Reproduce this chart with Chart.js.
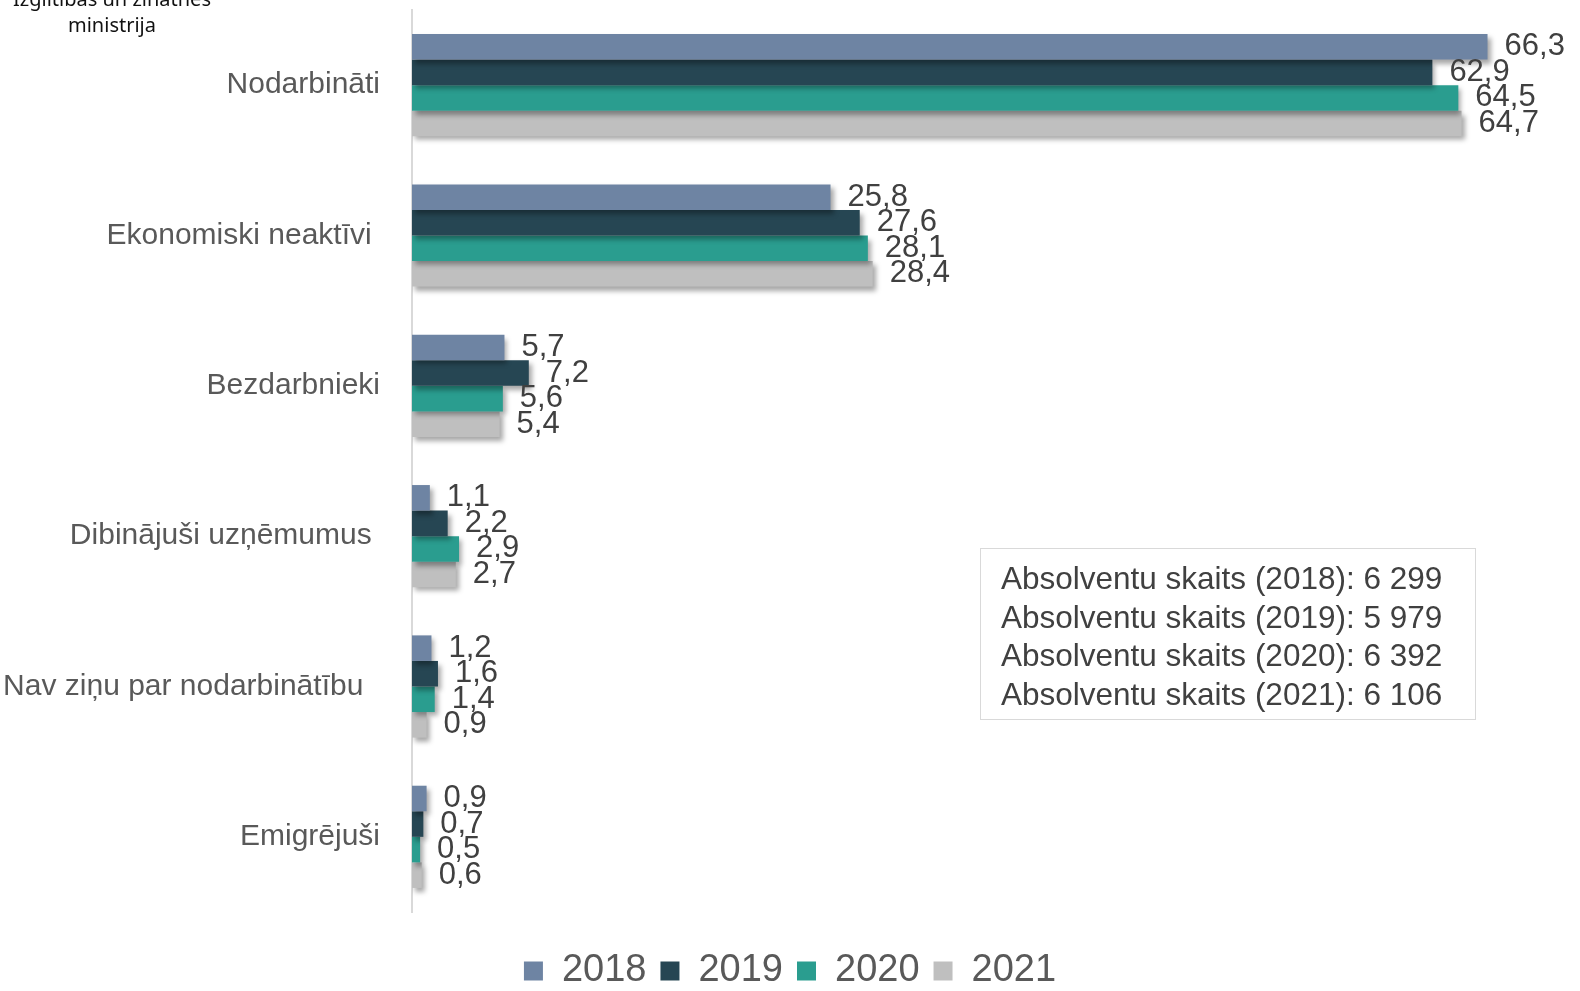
<!DOCTYPE html>
<html>
<head>
<meta charset="utf-8">
<script src="https://cdn.jsdelivr.net/npm/chart.js"></script>
<style>
  html, body { margin: 0; padding: 0; background: #fff; overflow: hidden; }
  #wrap { position: relative; width: 1580px; height: 991px; overflow: hidden; }
  #chart { display: block; }
  #logo { position: absolute; left: 2px; top: -14px; width: 220px; text-align: center;
    font-family: "Noto Sans", sans-serif; font-size: 20px; line-height: 26px; color: #111; }
  #note { position: absolute; left: 980px; top: 548px; width: 474px; height: 150px;
    border: 1.5px solid #D9D9D9; padding: 10px 0 10px 20px;
    font-family: "Liberation Sans", Arial, sans-serif; font-size: 31.5px; line-height: 38.5px; color: #404040; }
</style>
</head>
<body>
<div id="wrap">
  <canvas id="chart" width="1580" height="991"></canvas>
  <div id="logo">Izglītības un zinātnes<br>ministrija</div>
  <div id="note"></div>
</div>
<script>
const categories = ['Nodarbināti', 'Ekonomiski neaktīvi ', 'Bezdarbnieki', 'Dibinājuši uzņēmumus ', 'Nav ziņu par nodarbinātību  ', 'Emigrējuši'];
const years = ['2018', '2019', '2020', '2021'];
const values2018 = [66.3, 25.8, 5.7, 1.1, 1.2, 0.9];
const values2019 = [62.9, 27.6, 7.2, 2.2, 1.6, 0.7];
const values2020 = [64.5, 28.1, 5.6, 2.9, 1.4, 0.5];
const values2021 = [64.7, 28.4, 5.4, 2.7, 0.9, 0.6];
const graduates = ['6 299', '5 979', '6 392', '6 106'];
const colors = ['#6E84A3', '#264653', '#2A9D8F', '#BFBFBF'];

document.getElementById('note').innerHTML = years
  .map((y, i) => `Absolventu skaits (${y}): ${graduates[i]}`).join('<br>');

// drop shadow under each bar, like the office chart
const barShadow = {
  id: 'barShadow',
  beforeDatasetDraw(chart) {
    const c = chart.ctx;
    c.save();
    c.shadowColor = 'rgba(0,0,0,0.35)';
    c.shadowBlur = 5;
    c.shadowOffsetX = 3;
    c.shadowOffsetY = 4;
  },
  afterDatasetDraw(chart) {
    chart.ctx.restore();
  }
};

// value labels at the end of each bar, comma decimals
const valueLabels = {
  id: 'valueLabels',
  afterDatasetsDraw(chart) {
    const c = chart.ctx;
    c.save();
    c.font = '31px "Liberation Sans", Arial, sans-serif';
    c.fillStyle = '#404040';
    c.textAlign = 'left';
    c.textBaseline = 'middle';
    chart.data.datasets.forEach((ds, di) => {
      chart.getDatasetMeta(di).data.forEach((bar, i) => {
        const txt = ds.data[i].toFixed(1).replace('.', ',');
        c.fillText(txt, bar.x + 17, bar.y);
      });
    });
    c.restore();
  }
};

const dataSets = [values2018, values2019, values2020, values2021].map((d, i) => ({
  label: years[i],
  data: d,
  backgroundColor: colors[i],
  borderWidth: 0,
  categoryPercentage: 0.68,
  barPercentage: 1.0
}));

new Chart(document.getElementById('chart'), {
  type: 'bar',
  data: { labels: categories, datasets: dataSets },
  options: {
    indexAxis: 'y',
    responsive: false,
    animation: false,
    layout: { padding: { top: 10, right: 0, bottom: -9, left: 0 } },
    scales: {
      x: {
        min: 0, max: 72,
        grid: { display: false },
        border: { display: false },
        ticks: { display: false },
        afterFit(scale) { scale.height = 26; }
      },
      y: {
        grid: { display: false },
        border: { display: true, color: '#D9D9D9', width: 2 },
        ticks: { color: '#595959', padding: 24, font: { family: '"Liberation Sans", Arial, sans-serif', size: 30 } },
        afterFit(scale) { scale.width = 412; scale.paddingTop = 0; scale.paddingBottom = 0; }
      }
    },
    plugins: {
      legend: {
        position: 'bottom',
        labels: {
          boxWidth: 19, boxHeight: 19, padding: 14, color: '#595959',
          font: { family: '"Liberation Sans", Arial, sans-serif', size: 38 }
        }
      },
      tooltip: { enabled: false }
    }
  },
  plugins: [barShadow, valueLabels]
});
</script>
</body>
</html>
